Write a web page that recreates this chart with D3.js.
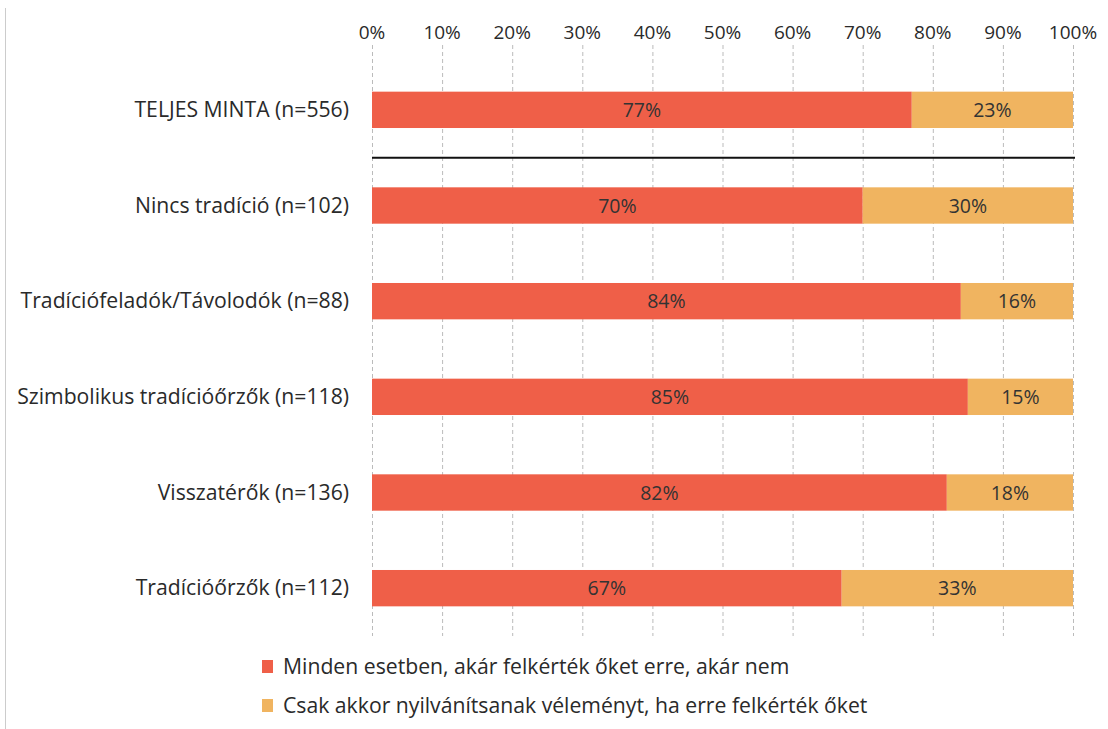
<!doctype html>
<html lang="hu">
<head>
<meta charset="UTF-8">
<title>Tradíció csoportok</title>
<script src="https://cdn.jsdelivr.net/npm/d3@7"></script>
<style>
	body { margin: 0; background: #fff; }
	svg { font-family: "Open Sans", "DejaVu Sans", sans-serif; }
	.tick-label { font-size: 19px; fill: #2a2a2a; text-anchor: middle; }
	.cat-label { font-size: 21.2px; fill: #2a2a2a; text-anchor: end; }
	.bar-label { font-size: 19.5px; fill: #333; text-anchor: middle; }
	.legend-label { font-size: 21.2px; fill: #2a2a2a; }
</style>
</head>
<body>
<script>
	var categories = [
		'TELJES MINTA (n=556)',
		'Nincs tradíció (n=102)',
		'Tradíciófeladók/Távolodók (n=88)',
		'Szimbolikus tradícióőrzők (n=118)',
		'Visszatérők (n=136)',
		'Tradícióőrzők (n=112)'
	];
	var seriesNames = [
		'Minden esetben, akár felkérték őket erre, akár nem',
		'Csak akkor nyilvánítsanak véleményt, ha erre felkérték őket'
	];
	var always = [77, 70, 84, 85, 82, 67];
	var onlyAsked = [23, 30, 16, 15, 18, 33];
	var ticks = [0, 10, 20, 30, 40, 50, 60, 70, 80, 90, 100];
	var colors = ['#EF5F48', '#F0B460'];

	var w = 1108, h = 729;
	var svg = d3.select('body').append('svg')
		.attr('width', w)
		.attr('height', h);

	// faint frame edge on the left
	svg.append('line')
		.attr('x1', 5.5).attr('x2', 5.5)
		.attr('y1', 8).attr('y2', h)
		.attr('stroke', '#ccc');

	var x = d3.scaleLinear().domain([0, 100]).range([372, 1073]);
	var y = d3.scaleBand()
		.domain(d3.range(categories.length))
		.range([62, 636])
		.paddingInner(0.62)
		.paddingOuter(0.31);

	// gridlines
	svg.append('g').selectAll('line')
		.data(ticks)
		.enter().append('line')
		.attr('x1', function(d) { return x(d) + 0.5; })
		.attr('x2', function(d) { return x(d) + 0.5; })
		.attr('y1', 45)
		.attr('y2', 636)
		.attr('stroke', '#bbb')
		.attr('stroke-dasharray', '4,3');

	// tick labels at top
	svg.append('g').selectAll('text')
		.data(ticks)
		.enter().append('text')
		.attr('class', 'tick-label')
		.attr('x', function(d) { return x(d); })
		.attr('y', 39)
		.text(function(d) { return d + '%'; });

	var stacked = categories.map(function(c, i) {
		return [
			{ i: i, s: 0, x0: 0, x1: always[i], v: always[i] },
			{ i: i, s: 1, x0: always[i], x1: always[i] + onlyAsked[i], v: onlyAsked[i] }
		];
	});
	var segs = [].concat.apply([], stacked);

	svg.append('g').selectAll('rect')
		.data(segs)
		.enter().append('rect')
		.attr('x', function(d) { return x(d.x0); })
		.attr('y', function(d) { return y(d.i); })
		.attr('width', function(d) { return x(d.x1) - x(d.x0); })
		.attr('height', y.bandwidth())
		.attr('fill', function(d) { return colors[d.s]; });

	svg.append('g').selectAll('text')
		.data(segs)
		.enter().append('text')
		.attr('class', 'bar-label')
		.attr('x', function(d) { return (x(d.x0) + x(d.x1)) / 2; })
		.attr('y', function(d) { return y(d.i) + y.bandwidth() / 2 + 7; })
		.text(function(d) { return d.v + '%'; });

	// category labels
	svg.append('g').selectAll('text')
		.data(categories)
		.enter().append('text')
		.attr('class', 'cat-label')
		.attr('x', 349)
		.attr('y', function(d, i) { return y(i) + y.bandwidth() / 2 + 7; })
		.text(function(d) { return d; });

	// separator between total and groups
	var sepY = (y(0) + y.bandwidth() + y(1)) / 2;
	svg.append('line')
		.attr('x1', x(0)).attr('x2', x(100) + 2)
		.attr('y1', sepY).attr('y2', sepY)
		.attr('stroke', '#111')
		.attr('stroke-width', 2);

	// legend
	var legend = svg.append('g').selectAll('g')
		.data(seriesNames)
		.enter().append('g')
		.attr('transform', function(d, i) { return 'translate(262,' + (660 + i * 39) + ')'; });
	legend.append('rect')
		.attr('width', 11).attr('height', 13)
		.attr('fill', function(d, i) { return colors[i]; });
	legend.append('text')
		.attr('class', 'legend-label')
		.attr('x', 21)
		.attr('y', 14)
		.text(function(d) { return d; });
</script>
</body>
</html>
